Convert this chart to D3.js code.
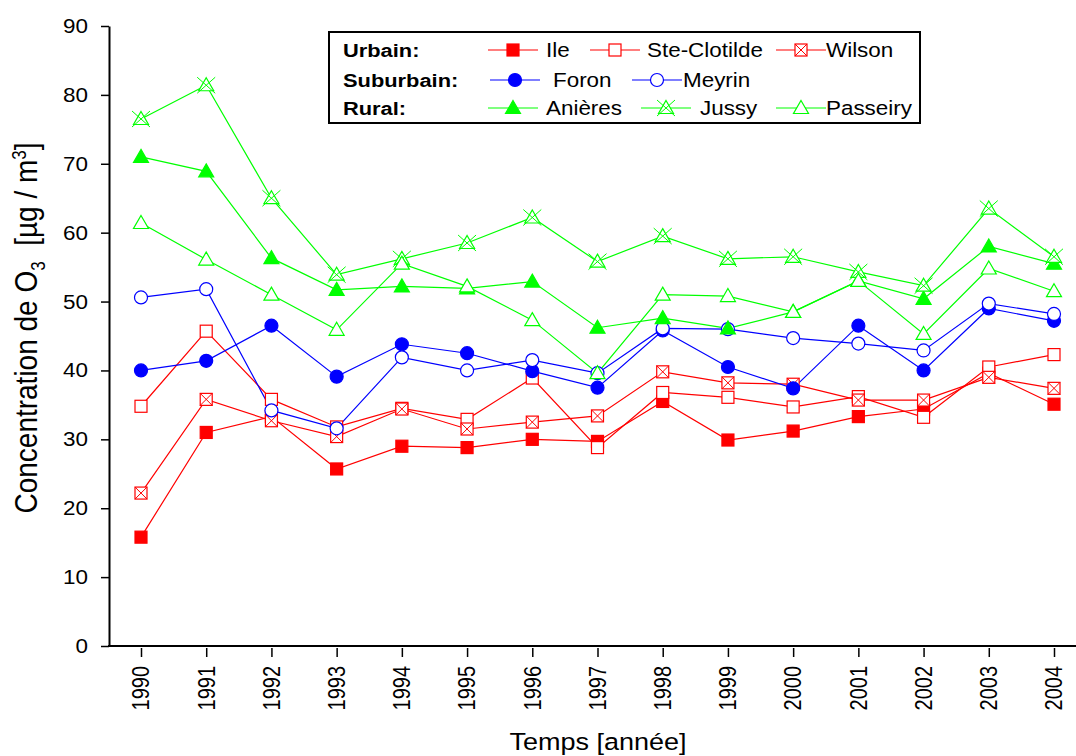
<!DOCTYPE html>
<html>
<head>
<meta charset="utf-8">
<script src="https://cdn.jsdelivr.net/npm/d3@7"></script>
<style>
  body { margin: 0; background: #fff; }
  text { font-family: "Liberation Sans", Arial, sans-serif; fill: #000; }
</style>
</head>
<body>
<div id="chart"></div>
<script>
// years and tick labels
var years = [1990, 1991, 1992, 1993, 1994, 1995, 1996, 1997, 1998, 1999, 2000, 2001, 2002, 2003, 2004];
var yTicks = [0, 10, 20, 30, 40, 50, 60, 70, 80, 90];

// series values (µg/m³)
var ile         = [15.8, 31.0, 33.3, 25.7, 29.0, 28.8, 30.0, 29.7, 35.5, 29.9, 31.2, 33.3, 34.4, 39.6, 35.1];
var steClotilde = [34.8, 45.7, 35.8, 31.8, 34.5, 32.9, 38.9, 28.8, 36.8, 36.1, 34.7, 36.2, 33.2, 40.5, 42.3];
var wilson      = [22.2, 35.8, 32.7, 30.4, 34.4, 31.5, 32.5, 33.4, 39.8, 38.2, 38.0, 35.7, 35.7, 39.0, 37.4];
var foron       = [40.0, 41.4, 46.5, 39.1, 43.8, 42.5, 39.9, 37.5, 45.8, 40.5, 37.4, 46.5, 40.0, 49.0, 47.2];
var meyrin      = [50.6, 51.8, 34.2, 31.6, 41.9, 40.0, 41.5, 39.6, 46.1, 46.0, 44.7, 43.9, 42.9, 49.7, 48.2];
var anieres     = [71.0, 68.9, 56.3, 51.7, 52.2, 51.9, 52.9, 46.2, 47.6, 46.1, 48.5, 53.0, 50.4, 58.0, 55.5];
var jussy       = [76.5, 81.4, 65.0, 53.9, 56.2, 58.5, 62.2, 55.8, 59.5, 56.2, 56.5, 54.3, 52.3, 63.5, 56.5];
var passeiry    = [61.4, 56.1, 51.0, 45.9, 55.5, 52.2, 47.3, 39.6, 51.0, 50.8, 48.5, 53.0, 45.3, 54.8, 51.5];

var red = "#ff0000", blue = "#0000ff", green = "#00ff00";

var series = [
  {name: "Ile",         values: ile,         color: red,   marker: "sqFill"},
  {name: "Ste-Clotilde",values: steClotilde, color: red,   marker: "sqOpen"},
  {name: "Wilson",      values: wilson,      color: red,   marker: "sqCross"},
  {name: "Foron",       values: foron,       color: blue,  marker: "cirFill"},
  {name: "Meyrin",      values: meyrin,      color: blue,  marker: "cirOpen"},
  {name: "Anières",     values: anieres,     color: green, marker: "triFill"},
  {name: "Jussy",       values: jussy,       color: green, marker: "triCross"},
  {name: "Passeiry",    values: passeiry,    color: green, marker: "triOpen"}
];

var W = 1076, H = 756;
var stretch = 1.15; // the original text is a bit wide

var svg = d3.select("#chart").append("svg")
  .attr("width", W)
  .attr("height", H);

var x = d3.scaleLinear().domain([1990, 2004]).range([141, 1054]);
var y = d3.scaleLinear().domain([0, 90]).range([646, 26]);

// draws one marker into g, centred at 0,0
function marker(g, type, color) {
  var open = "#fff";
  if (type.indexOf("sq") == 0) {
    g.append("rect").attr("x", -6).attr("y", -6).attr("width", 12).attr("height", 12)
      .attr("fill", type == "sqFill" ? color : open).attr("stroke", color).attr("stroke-width", 1.2);
    if (type == "sqCross") {
      g.append("path").attr("d", "M-6,-6L6,6M6,-6L-6,6").attr("stroke", color).attr("stroke-width", 1);
    }
  } else if (type.indexOf("cir") == 0) {
    g.append("circle").attr("r", 6.5)
      .attr("fill", type == "cirFill" ? color : open).attr("stroke", color).attr("stroke-width", 1.2);
  } else {
    g.append("path").attr("d", "M0,-7.5L7.5,5.5L-7.5,5.5Z")
      .attr("fill", type == "triFill" ? color : open).attr("stroke", color).attr("stroke-width", 1.2);
    if (type == "triCross") {
      g.append("path").attr("d", "M-9,-8L9,8M9,-8L-9,8").attr("stroke", color).attr("stroke-width", 1);
    }
  }
}

// stretched text helper
function stext(parent, tx, ty, str, size, anchor, rot) {
  var t = parent.append("g")
    .attr("transform", "translate(" + tx + "," + ty + ") scale(" + stretch + ",1)" + (rot ? " rotate(" + rot + ")" : ""))
    .append("text")
    .attr("text-anchor", anchor)
    .style("font-size", size + "px")
    .text(str);
  return t;
}

// Y axis
var yAxis = svg.append("g")
  .attr("transform", "translate(109,0)")
  .call(d3.axisLeft(y).tickValues(yTicks).tickSize(8).tickSizeOuter(0).tickFormat(""));
yAxis.select(".domain").attr("stroke-width", 2);
yAxis.selectAll(".tick line").attr("stroke-width", 1.5);
yTicks.forEach(function(v) {
  stext(svg, 88, y(v), v, 19.5, "end").attr("dy", "0.36em");
});

// X axis
var xAxis = svg.append("g")
  .attr("transform", "translate(0,648)")
  .call(d3.axisBottom(x).tickValues(years).tickSize(9).tickSizeOuter(0).tickFormat(""));
xAxis.select(".domain").remove();
xAxis.selectAll(".tick line").attr("stroke-width", 1.5);
svg.append("line")
  .attr("x1", 108).attr("x2", 1076)
  .attr("y1", 646).attr("y2", 646)
  .attr("stroke", "#000").attr("stroke-width", 2);
years.forEach(function(yr) {
  stext(svg, x(yr), 666, yr, 20, "end", -90).attr("dy", "0.36em");
});

// axis titles
stext(svg, 598, 750, "Temps [année]", 23.5, "middle");

var yl = svg.append("g")
  .attr("transform", "translate(37,328) scale(" + stretch + ",1) rotate(-90)")
  .append("text")
  .attr("text-anchor", "middle")
  .style("font-size", "28px");
yl.append("tspan").text("Concentration de O");
yl.append("tspan").attr("dy", 7).style("font-size", "17px").text("3");
yl.append("tspan").attr("dy", -7).text("\u00a0\u00a0[µg / m");
yl.append("tspan").attr("dy", -10).style("font-size", "17px").text("3");
yl.append("tspan").attr("dy", 10).text("]");

// lines and markers
var line = d3.line()
  .x(function(d, i) { return x(years[i]); })
  .y(function(d) { return y(d); });

series.forEach(function(s) {
  svg.append("path")
    .datum(s.values)
    .attr("fill", "none")
    .attr("stroke", s.color)
    .attr("stroke-width", 1.2)
    .attr("d", line);
});
series.forEach(function(s) {
  s.values.forEach(function(v, i) {
    var g = svg.append("g").attr("transform", "translate(" + x(years[i]) + "," + y(v) + ")");
    marker(g, s.marker, s.color);
  });
});

// legend
var leg = svg.append("g");
leg.append("rect")
  .attr("x", 329).attr("y", 32).attr("width", 591).attr("height", 91)
  .attr("fill", "#fff").attr("stroke", "#000").attr("stroke-width", 2);

var groups = ["Urbain:", "Suburbain:", "Rural:"];
var rowY = [50, 80, 108];
groups.forEach(function(gname, i) {
  stext(leg, 343, rowY[i], gname, 19, "start").attr("dy", "0.36em").style("font-weight", "bold");
});

// legend entries: row, sample start x
var legPos = [
  {row: 0, x0: 488}, {row: 0, x0: 590}, {row: 0, x0: 776},
  {row: 1, x0: 490}, {row: 1, x0: 632},
  {row: 2, x0: 488}, {row: 2, x0: 641}, {row: 2, x0: 776}
];
var legTextX = [546, 647, 826, 553, 683, 546, 700, 826];
series.forEach(function(s, i) {
  var p = legPos[i], ly = rowY[p.row];
  leg.append("line")
    .attr("x1", p.x0).attr("x2", p.x0 + 50)
    .attr("y1", ly).attr("y2", ly)
    .attr("stroke", s.color).attr("stroke-width", 1.2);
  var g = leg.append("g").attr("transform", "translate(" + (p.x0 + 25) + "," + ly + ")");
  marker(g, s.marker, s.color);
  stext(leg, legTextX[i], ly, s.name, 19.5, "start").attr("dy", "0.36em");
});
</script>
</body>
</html>
